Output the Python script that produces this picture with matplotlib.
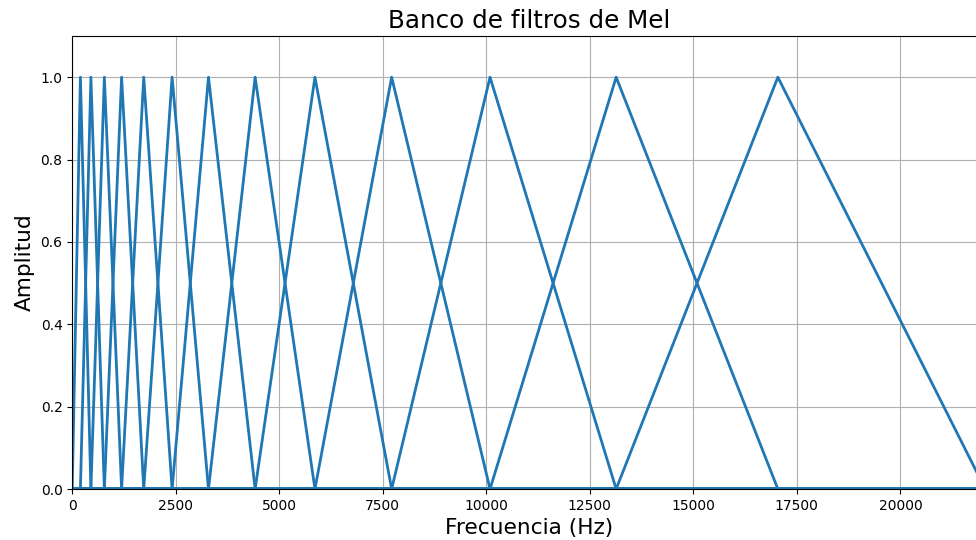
import matplotlib
matplotlib.use("Agg")
import matplotlib.pyplot as plt

# frecuencias de los bordes de los filtros (Hz), espaciadas en escala Mel
bordes_hz = [0, 197.6, 451.0, 775.9, 1192.6, 1726.9, 2412.0, 3290.5,
             4417.0, 5861.6, 7714.0, 10090.0, 13136.0, 17041.0, 22050.0]
fs_mitad = 22050.0
ticks_x = [0, 2500, 5000, 7500, 10000, 12500, 15000, 17500, 20000]

fig = plt.figure(figsize=(9.76, 5.4), dpi=100)
ax = fig.add_axes([0.0740, 0.0944, 0.9355, 0.8389])

for i in range(1, len(bordes_hz) - 1):
    izq, cen, der = bordes_hz[i - 1], bordes_hz[i], bordes_hz[i + 1]
    xs = [0, izq, cen, der, fs_mitad]
    ys = [0, 0, 1, 0, 0]
    ax.plot(xs, ys, color='#1f77b4', linewidth=2)

ax.set_xlim(0, fs_mitad)
ax.set_ylim(0, 1.1)
ax.set_xticks(ticks_x)
ax.set_yticks([0.0, 0.2, 0.4, 0.6, 0.8, 1.0])
ax.grid(True)
ax.set_title('Banco de filtros de Mel', fontsize=17.7)
ax.set_xlabel('Frecuencia (Hz)', fontsize=15.6)
ax.set_ylabel('Amplitud', fontsize=15.6)

fig.savefig('out.png', dpi=100)
